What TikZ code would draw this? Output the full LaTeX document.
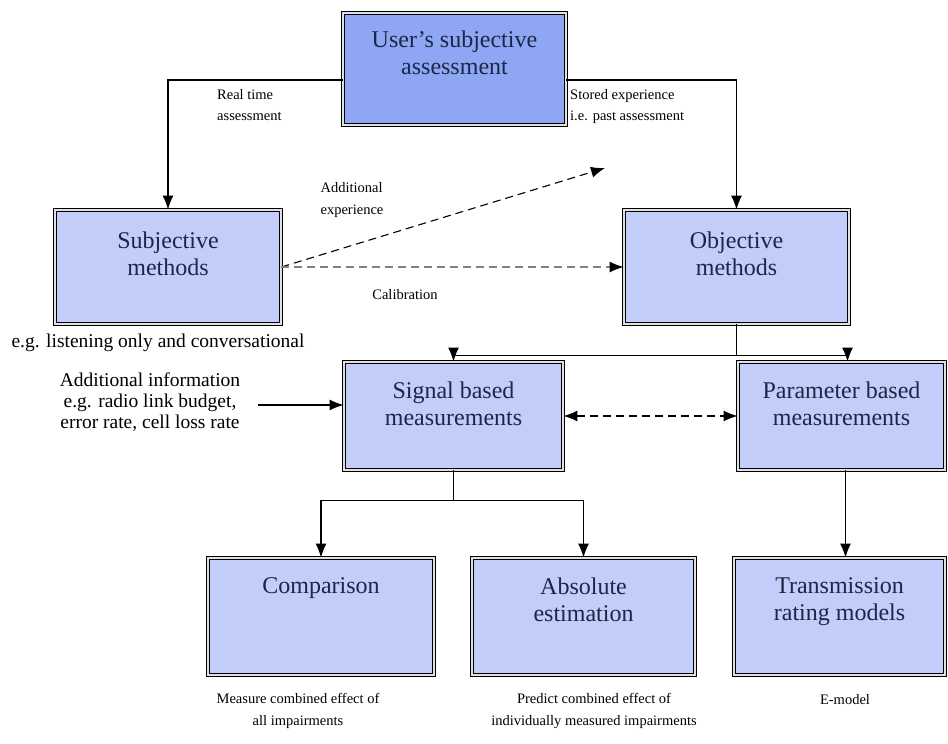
\documentclass[tikz,border=0pt]{standalone}
\usepackage{fontspec}
\setmainfont{Liberation Serif}
\newfontfamily\boxfont{Liberation Serif}
\usepackage{xcolor}
\usetikzlibrary{arrows.meta, positioning}
\definecolor{boxfill}{HTML}{C2CDF9}
\definecolor{topfill}{HTML}{8EA6F3}
\definecolor{boxink}{HTML}{1B2747}
\tikzset{
  mbox/.style={draw=black, line width=0.9pt, double=black!12, double distance=1.8pt,
    fill=boxfill, inner sep=0pt},
  mtext/.style={font=\boxfont\fontsize{24}{27}\selectfont, text=boxink, align=center, inner sep=0pt},
  note/.style={font=\fontsize{14.5}{21.5}\selectfont, inner sep=0pt},
  bignote/.style={font=\fontsize{19.5}{21}\selectfont, inner sep=0pt},
  tip/.style={-{Latex[length=14pt,width=11pt]}},
  arr/.style={line width=1.1pt, tip},
  darr/.style={line width=1.1pt, dash pattern=on 8pt off 5pt, tip}
}
\begin{document}
\begin{tikzpicture}[x=1pt,y=1pt]
\useasboundingbox (0,0) rectangle (948,744);
% boxes
\node[mbox, fill=topfill, minimum width=223pt, minimum height=112pt] (user) at (454.5,675) {};
\node[mbox, minimum width=226pt, minimum height=114pt] (sub) at (168,477) {};
\node[mbox, minimum width=225pt, minimum height=114pt] (obj) at (736.5,477) {};
\node[mbox, minimum width=219pt, minimum height=108pt] (sig) at (453.5,328) {};
\node[mbox, minimum width=207pt, minimum height=108pt] (par) at (841.5,328) {};
\node[mbox, minimum width=226pt, minimum height=117pt] (cmp) at (321,127.5) {};
\node[mbox, minimum width=223pt, minimum height=117pt] (abs) at (583.5,127.5) {};
\node[mbox, minimum width=211pt, minimum height=117pt] (trm) at (839.5,127.5) {};
% box texts
\node[mtext, below=18pt of user.north] (usertxt) {User’s subjective\\assessment};
\node[mtext, below=22pt of sub.north] (subtxt) {Subjective\\methods};
\node[mtext, below=22pt of obj.north] (objtxt) {Objective\\methods};
\node[mtext, below=20pt of sig.north] (sigtxt) {Signal based\\measurements};
\node[mtext, below=20pt of par.north] (partxt) {Parameter based\\measurements};
\node[mtext, below=20pt of cmp.north] (cmptxt) {Comparison};
\node[mtext, below=20pt of abs.north] (abstxt) {Absolute\\estimation};
\node[mtext, below=20pt of trm.north] (trmtxt) {Transmission\\rating models};
% notes
\node[note, align=left, anchor=north west] (realtime) at (217,655) {Real time\\assessment};
\node[note, align=left, anchor=north west] (stored) at (570,655) {Stored experience\\i.e. past assessment};
\node[note, align=left] (addexp) at (352,544) {Additional\\experience};
\node[note] (calib) at (405,449) {Calibration};
\node[bignote] (subeg) at (158,401) {e.g. listening only and conversational};
\node[bignote, align=center] (addinfo) at (150,342) {Additional information\\e.g. radio link budget,\\error rate, cell loss rate};
\node[note, align=center] (cmpnote) at (298,33) {Measure combined effect of\\all impairments};
\node[note, align=center] (absnote) at (594,33) {Predict combined effect of\\individually measured impairments};
\node[note] (trmnote) at (845,44) {E-model};
\coordinate (expend) at (605,576);
% connectors
\draw[arr] ([yshift=-11pt]user.west) -| (sub.north);
\draw[arr] ([yshift=-11pt]user.east) -| (obj.north);
\draw[darr] (sub.east) -- (expend);
\draw[darr, draw=black!50, -{Latex[black,length=14pt,width=11pt]}] (sub.east) -- (obj.west);
\draw[line width=1.1pt] (obj.south) -- ++(0,-31) coordinate (objsplit);
\draw[arr] (objsplit) -| (sig.north);
\draw[arr] (objsplit) -| ([xshift=6pt]par.north);
\draw[arr] (addinfo.east -| 258,0) ++(0,-3) -- ([yshift=11pt]sig.west);
\draw[darr, {Latex[length=14pt,width=11pt]}-{Latex[length=14pt,width=11pt]}] (sig.east) -- (par.west);
\draw[line width=1.1pt] (sig.south) -- ++(0,-30) coordinate (sigsplit);
\draw[arr] (sigsplit) -| (cmp.north);
\draw[arr] (sigsplit) -| (abs.north);
\draw[arr] ([xshift=4pt]par.south) -- ([xshift=4pt]par.south |- trm.north);
\end{tikzpicture}
\end{document}
